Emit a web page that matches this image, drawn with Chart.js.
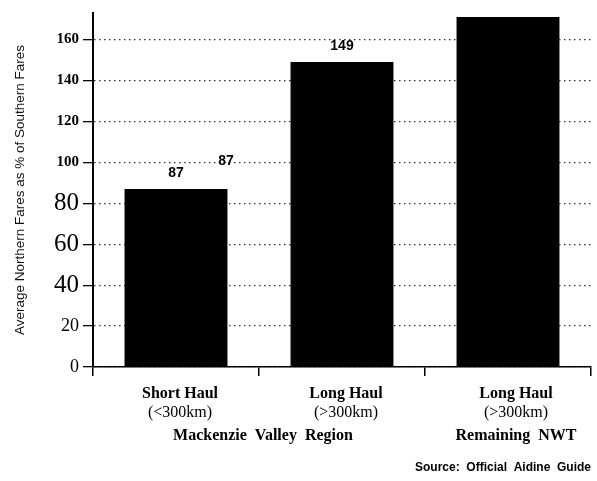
<!DOCTYPE html>
<html>
<head>
<meta charset="utf-8">
<script src="https://cdn.jsdelivr.net/npm/chart.js@4.4.0/dist/chart.umd.min.js"></script>
<style>
  body { margin: 0; background: #fff; }
  canvas { display: block; }
</style>
</head>
<body>
<canvas id="fares" width="597" height="481"></canvas>
<script>
const haulTypes = ['Short Haul', 'Long Haul', 'Long Haul'];
const distances = ['(<300km)', '(>300km)', '(>300km)'];
const fareRatios = [87, 149, 171];
const valueLabels = ['87', '149', ''];
const yTicks = [0, 20, 40, 60, 80, 100, 120, 140, 160];

// big / small sizes of the scanned tick numbers
function tickFont(c) {
    const v = c.tick ? c.tick.value : 100;
    if (v === 40 || v === 60 || v === 80) return { family: 'Liberation Serif', size: 25, weight: 'normal' };
    if (v === 0 || v === 20) return { family: 'Liberation Serif', size: 18, weight: 'normal' };
    return { family: 'Liberation Serif', size: 15, weight: 'bold' };
}

const textPlugin = {
    id: 'textPlugin',
    afterDraw(chart) {
        const ctx = chart.ctx;
        const x = chart.scales.x;
        const y = chart.scales.y;
        ctx.save();
        ctx.fillStyle = '#000';
        ctx.textAlign = 'center';
        ctx.textBaseline = 'alphabetic';

        // value labels above bars
        ctx.font = 'bold 14px "Liberation Sans"';
        fareRatios.forEach((v, i) => {
            if (valueLabels[i]) ctx.fillText(valueLabels[i], x.getPixelForValue(i), y.getPixelForValue(v) - 12);
        });
        // stray label sitting on the 100 line
        ctx.fillText(valueLabels[0], x.getPixelForValue(0) + 50, y.getPixelForValue(100) + 3);

        // category labels
        const base = x.top;
        haulTypes.forEach((h, i) => {
            const cx = x.getPixelForValue(i) + (i === 2 ? 8 : 4);
            ctx.font = 'bold 16px "Liberation Serif"';
            ctx.fillText(h, cx, base + 31);
            ctx.font = '16px "Liberation Serif"';
            ctx.fillText(distances[i], cx, base + 50);
        });
        ctx.font = 'bold 16px "Liberation Serif"';
        ctx.fillText('Mackenzie  Valley  Region', (x.getPixelForValue(0) + x.getPixelForValue(1)) / 2 + 4, base + 73);
        ctx.fillText('Remaining  NWT', x.getPixelForValue(2) + 8, base + 73);

        ctx.font = 'bold 12px "Liberation Sans"';
        ctx.textAlign = 'right';
        ctx.fillText('Source:  Official  Aidine  Guide', 591, base + 104);
        ctx.restore();
    }
};

new Chart(document.getElementById('fares').getContext('2d'), {
    type: 'bar',
    data: {
        labels: haulTypes,
        datasets: [{
            data: fareRatios,
            backgroundColor: '#000',
            borderWidth: 0,
            barPercentage: 0.62,
            categoryPercentage: 1
        }]
    },
    options: {
        responsive: false,
        animation: false,
        layout: { padding: { top: 8, right: 6, left: 0, bottom: 0 } },
        plugins: {
            legend: { display: false },
            tooltip: { enabled: false }
        },
        scales: {
            x: {
                afterFit: s => { s.height = 114; },
                grid: {
                    offset: true,
                    drawOnChartArea: false,
                    color: '#000',
                    lineWidth: 1.5,
                    tickLength: 9
                },
                border: { color: '#000', width: 1.5 },
                ticks: { display: false }
            },
            y: {
                min: 0,
                max: 173,
                afterFit: s => { s.width = 93; },
                afterBuildTicks: s => { s.ticks = yTicks.map(v => ({ value: v })); },
                grid: {
                    color: '#333',
                    lineWidth: 1.3,
                    tickBorderDash: [],
                    tickColor: '#000',
                    tickLength: 10
                },
                border: { color: '#000', width: 2, dash: [1.5, 3.5] },
                ticks: {
                    color: '#000',
                    padding: 4,
                    font: tickFont
                },
                title: {
                    display: true,
                    text: 'Average Northern Fares as % of Southern Fares',
                    color: '#111',
                    font: { family: 'Liberation Sans', size: 13.5 },
                    padding: { top: 12, bottom: 0 }
                }
            }
        }
    },
    plugins: [textPlugin]
});
</script>
</body>
</html>
